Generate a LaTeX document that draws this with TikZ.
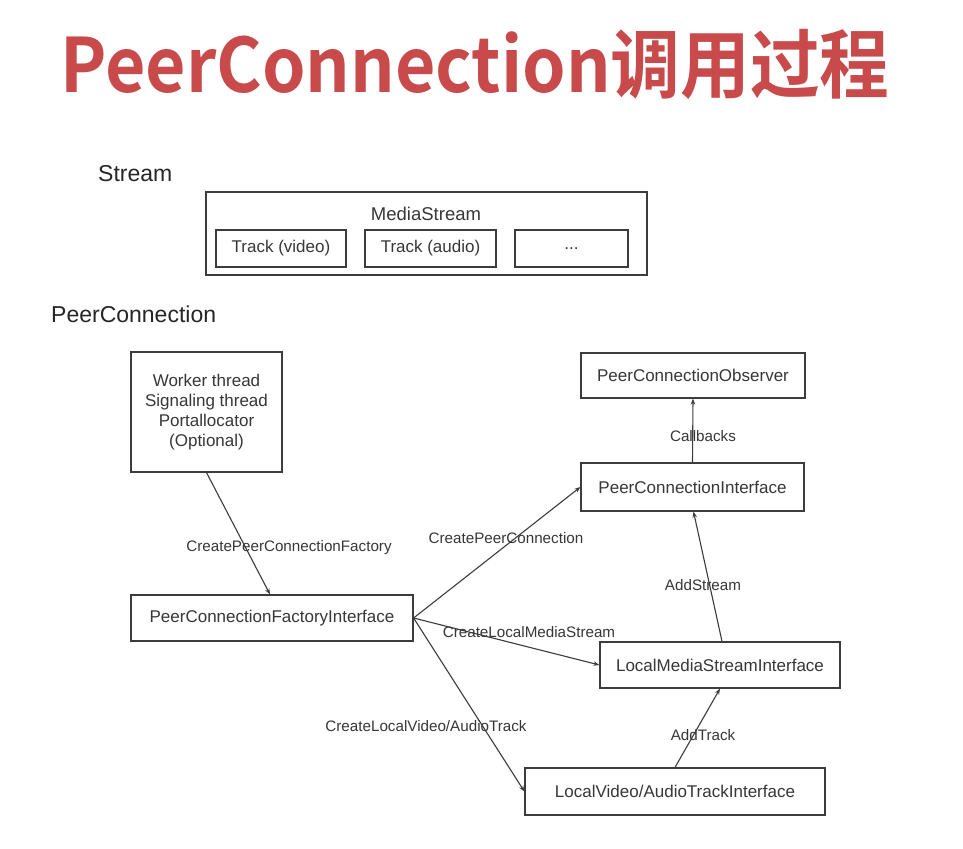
\documentclass[tikz,border=0pt]{standalone}
\usepackage{fontspec}
\setmainfont{Liberation Sans}
\newfontfamily\cjkbold[BoldFont={Noto Sans CJK SC Bold}]{Noto Sans CJK SC}
\usetikzlibrary{arrows.meta}
\definecolor{titlered}{RGB}{200,74,74}
\definecolor{ink}{RGB}{55,55,55}
\definecolor{edge}{RGB}{60,60,60}
\tikzset{
  box/.style={draw=edge, line width=1.2pt, text=ink, font=\fontsize{17}{20}\selectfont, inner sep=0pt, align=center},
  lbl/.style={text=ink, font=\fontsize{15.2}{18}\selectfont, inner sep=0pt},
  heading/.style={text=black!85, font=\fontsize{23}{26}\selectfont, inner sep=0pt, anchor=west},
  conn/.style={draw=edge, line width=1.1pt, -{Stealth[length=6pt,width=4.5pt]}}
}
\begin{document}
\begin{tikzpicture}[x=1pt,y=-1pt]
\useasboundingbox[fill=white] (0,0) rectangle (963,848);
\node[text=titlered, inner sep=0pt, anchor=base west, font=\cjkbold\bfseries\fontsize{75}{78}\selectfont] (title) at (60,93) {\scalebox{0.93}[1]{PeerConnection调用过程}};

\node[heading] (streamlbl) at (98,174) {Stream};
\node[box, minimum width=441pt, minimum height=83pt] (ms) at (426.5,233.5) {};
\node[text=ink, font=\fontsize{18.5}{20}\selectfont, inner sep=0pt] (mstxt) at (426,214) {MediaStream};
\node[box, minimum width=130pt, minimum height=37pt] (tv) at (281,248.5) {Track (video)};
\node[box, minimum width=131pt, minimum height=37pt] (ta) at (430.5,248.5) {Track (audio)};
\node[box, minimum width=113pt, minimum height=37pt] (td) at (571.5,248.5) {...};

\node[heading] (pclbl) at (51,314) {PeerConnection};
\node[box, minimum width=151pt, minimum height=120pt] (worker) at (206.5,412) {Worker thread\\Signaling thread\\Portallocator\\(Optional)};
\node[box, minimum width=282pt, minimum height=46pt] (factory) at (272,618) {PeerConnectionFactoryInterface};
\node[box, minimum width=224pt, minimum height=45pt] (obs) at (693,375.5) {PeerConnectionObserver};
\node[box, minimum width=223pt, minimum height=48pt] (pci) at (692.5,487) {PeerConnectionInterface};
\node[box, minimum width=240pt, minimum height=46pt] (lmsi) at (720,665) {LocalMediaStreamInterface};
\node[box, minimum width=300pt, minimum height=47pt] (lvati) at (675,791.5) {LocalVideo/AudioTrackInterface};

\draw[conn] (worker.south) -- ([xshift=-2pt]factory.north);
\draw[conn] (factory.east) -- (pci.west);
\draw[conn] (factory.east) -- (lmsi.west);
\draw[conn] (factory.east) -- (lvati.west);
\draw[conn] ([xshift=2pt]lmsi.north) -- ([xshift=1pt]pci.south);
\draw[conn] (lvati.north) -- (lmsi.south);
\draw[conn] (pci.north) -- (obs.south);

\node[lbl] (l1) at (289,548) {CreatePeerConnectionFactory};
\node[lbl] (l2) at (506,538) {CreatePeerConnection};
\node[lbl] (l3) at (529,632) {CreateLocalMediaStream};
\node[lbl] (l4) at (426,726) {CreateLocalVideo/AudioTrack};
\node[lbl] (l5) at (703,585) {AddStream};
\node[lbl] (l6) at (703,735) {AddTrack};
\node[lbl] (l7) at (703,436) {Callbacks};
\end{tikzpicture}
\end{document}
